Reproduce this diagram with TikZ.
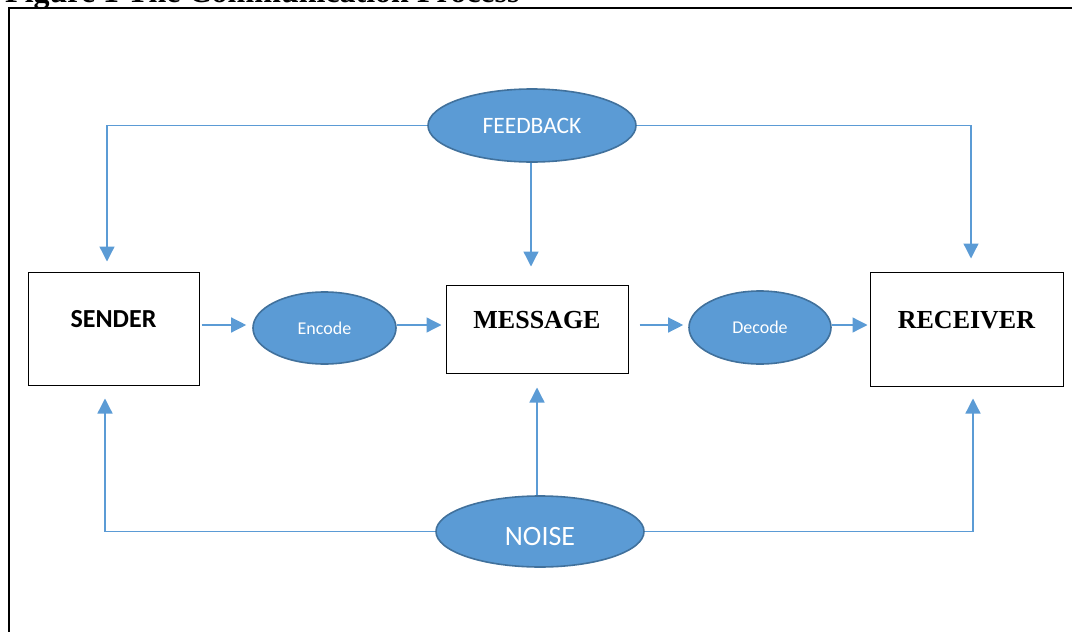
\documentclass[tikz,border=0pt]{standalone}
\usepackage{fontspec}
\setmainfont{Liberation Serif}
\newfontfamily\calib{Carlito}
\usetikzlibrary{arrows.meta,shapes.geometric}
\definecolor{bfill}{HTML}{5B9BD5}
\definecolor{bdraw}{HTML}{41719C}
\begin{document}
\begin{tikzpicture}[x=1pt,y=-1pt,
  box/.style={draw=black, line width=1pt, rectangle, inner sep=0pt},
  oval/.style={ellipse, fill=bfill, draw=bdraw, line width=1.6pt, inner sep=0pt, text=white},
  conn/.style={draw=bfill, line width=1.3pt, -{Triangle[width=15pt,length=15pt]}},
  plain/.style={draw=bfill, line width=1.3pt}]
\useasboundingbox (0,0) rectangle (1072,632);
\clip (0,0) rectangle (1072,632);
\node[anchor=base west, font=\bfseries\fontsize{32}{36}\selectfont, inner sep=0pt] (title) at (5,2.5) {Figure 1 The Communication Process};
\coordinate (fbl0) at (9,700);
\coordinate (fbc) at (9,8);
\coordinate (fbr0) at (1100,8);
\draw[line width=2pt] (fbl0) -- (fbc) -- (fbr0);

\node[box, minimum width=171pt, text height=55pt, text depth=58pt, font=\calib\bfseries\fontsize{26}{30}\selectfont] (sender) at (113.5,328.5) {SENDER};
\node[box, minimum width=182pt, text height=43pt, text depth=45pt, font=\bfseries\fontsize{26}{30}\selectfont] (message) at (537,329) {MESSAGE};
\node[box, minimum width=193pt, text height=56pt, text depth=58pt, font=\bfseries\fontsize{26}{30}\selectfont] (receiver) at (966.5,329) {RECEIVER};

\node[oval, minimum width=143pt, minimum height=72pt, font=\calib\fontsize{18}{22}\selectfont] (encode) at (324.5,328) {Encode};
\node[oval, minimum width=142pt, minimum height=73pt, font=\calib\fontsize{18}{22}\selectfont] (decode) at (760,327.5) {Decode};
\node[oval, minimum width=208pt, minimum height=73pt, font=\calib\fontsize{23.5}{28}\selectfont] (feedback) at (532,125.5) {FEEDBACK};
\node[oval, minimum width=208pt, minimum height=71pt, text height=27pt, text depth=0pt, font=\calib\fontsize{28}{32}\selectfont] (noise) at (540,531.5) {NOISE};

\coordinate (ay) at (0,325);
\draw[conn, shorten <=2pt, shorten >=6pt] (sender.east |- ay) -- (encode.west |- ay);
\draw[conn, shorten >=4pt] (encode.east |- ay) -- (message.west |- ay);
\draw[conn, shorten <=11pt, shorten >=5pt] (message.east |- ay) -- (decode.west |- ay);
\draw[conn, shorten >=2pt] (decode.east |- ay) -- (receiver.west |- ay);

\coordinate (fx) at (107,0);
\coordinate (gx) at (971,0);
\coordinate (fl) at (feedback.west -| fx);
\coordinate (fr) at (feedback.east -| gx);
\draw[conn, shorten >=10pt] (feedback.west) -- (fl) -- (fl |- sender.north);
\draw[conn, shorten >=13pt] (feedback.east) -- (fr) -- (fr |- receiver.north);
\coordinate (fm) at (531,0);
\draw[conn, shorten >=18pt] (feedback.south -| fm) -- (fm |- message.north);

\coordinate (nx) at (105,0);
\coordinate (mx) at (973,0);
\coordinate (nl) at (noise.west -| nx);
\coordinate (nr) at (noise.east -| mx);
\draw[conn, shorten >=13pt] (noise.west) -- (nl) -- (nl |- sender.south);
\draw[conn, shorten >=12pt] (noise.east) -- (nr) -- (nr |- receiver.south);
\coordinate (nm) at (537,0);
\draw[conn, shorten >=14pt] (noise.north -| nm) -- (nm |- message.south);
\end{tikzpicture}
\end{document}
